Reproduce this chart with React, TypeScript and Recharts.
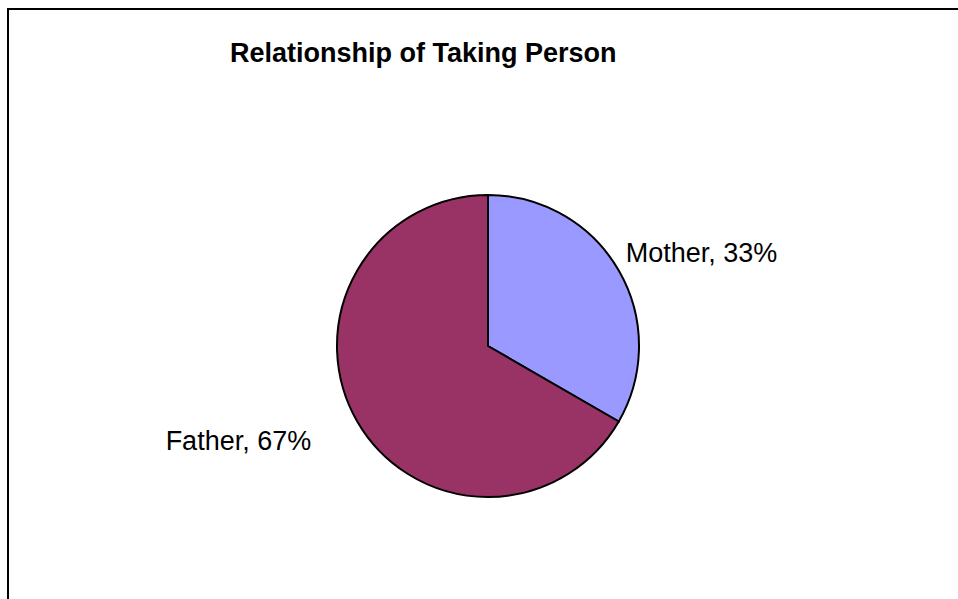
import React from "react";
import { PieChart, Pie, Cell } from "recharts";

const categories = ["Mother", "Father"];
const counts = [1, 2];
const colors = ["#9999FF", "#993366"];
const title = "Relationship of Taking Person";

const data = categories.map((name, i) => ({ name, value: counts[i] }));

const FONT = "'Liberation Sans', Arial, sans-serif";
const LABEL_OFFSETS: Record<string, { dx: number; dy: number }> = {
  Mother: { dx: 7, dy: -18 },
  Father: { dx: -46, dy: 19 },
};

const RAD = Math.PI / 180;

const renderLabel = (props: any) => {
  const { cx, cy, midAngle, outerRadius, name, percent } = props;
  const px = cx + outerRadius * Math.cos(-midAngle * RAD);
  const py = cy + outerRadius * Math.sin(-midAngle * RAD);
  const off = LABEL_OFFSETS[name] || { dx: 0, dy: 0 };
  const right = Math.cos(-midAngle * RAD) >= 0;
  return (
    <text
      x={px + off.dx}
      y={py + off.dy}
      textAnchor={right ? "start" : "end"}
      dominantBaseline="central"
      fill="#000"
      fontSize={27}
      fontFamily={FONT}
    >
      {`${name}, ${Math.round(percent * 100)}%`}
    </text>
  );
};

export default function App() {
  return (
    <div
      style={{
        position: "absolute",
        left: 7,
        top: 8,
        width: 951,
        height: 591,
        borderTop: "2px solid #000",
        borderLeft: "2px solid #000",
        boxSizing: "border-box",
        background: "#fff",
        overflow: "hidden",
      }}
    >
      <div
        style={{
          position: "absolute",
          left: 221,
          top: 28,
          fontFamily: FONT,
          fontWeight: "bold",
          fontSize: 27,
          lineHeight: "30px",
          whiteSpace: "nowrap",
          color: "#000",
        }}
      >
        {title}
      </div>
      <div style={{ position: "absolute", left: -2, top: -2 }}>
        <PieChart width={951} height={591} margin={{ top: 0, right: 0, bottom: 0, left: 0 }}>
          <Pie
            data={data}
            dataKey="value"
            nameKey="name"
            cx={481}
            cy={338}
            outerRadius={151}
            startAngle={90}
            endAngle={-270}
            stroke="#000"
            strokeWidth={2}
            label={renderLabel}
            labelLine={false}
            isAnimationActive={false}
          >
            {data.map((d, i) => (
              <Cell key={d.name} fill={colors[i]} />
            ))}
          </Pie>
        </PieChart>
      </div>
    </div>
  );
}
